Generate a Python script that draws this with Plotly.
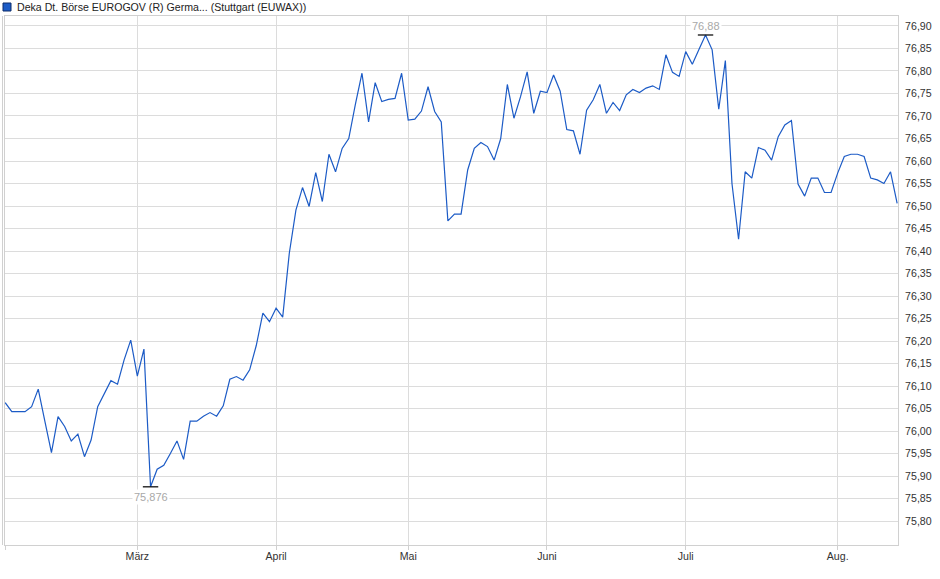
import pandas as pd
import plotly.graph_objects as go

# Trading days (Stuttgart), Feb 3 2025 .. Aug 14 2025, excluding Good Friday / Easter Monday / May 1
holidays = ["2025-04-18", "2025-04-21", "2025-05-01"]
days = [d for d in pd.bdate_range("2025-02-03", "2025-08-14") if d.strftime("%Y-%m-%d") not in holidays]
dates = [d.strftime("%Y-%m-%d") for d in days]

prices = [
    76.063, 76.043, 76.043, 76.043, 76.054, 76.093, 76.022, 75.952, 76.032, 76.010,
    75.978, 75.993, 75.943, 75.980, 76.054, 76.084, 76.112, 76.104, 76.158, 76.202,
    76.122, 76.182, 75.876, 75.915, 75.924, 75.950, 75.978, 75.937, 76.022, 76.022,
    76.033, 76.041, 76.033, 76.056, 76.115, 76.121, 76.113, 76.136, 76.190, 76.262,
    76.243, 76.273, 76.253, 76.395, 76.491, 76.541, 76.499, 76.574, 76.510, 76.615,
    76.576, 76.628, 76.650, 76.726, 76.795, 76.687, 76.774, 76.732, 76.737, 76.739,
    76.795, 76.691, 76.693, 76.711, 76.765, 76.710, 76.687, 76.467, 76.482, 76.482,
    76.580, 76.628, 76.641, 76.632, 76.602, 76.650, 76.770, 76.695, 76.743, 76.798,
    76.706, 76.755, 76.752, 76.791, 76.755, 76.670, 76.667, 76.615, 76.713, 76.736,
    76.770, 76.706, 76.730, 76.712, 76.747, 76.759, 76.752, 76.762, 76.767, 76.759,
    76.836, 76.797, 76.788, 76.843, 76.815, 76.848, 76.880, 76.847, 76.715, 76.823,
    76.550, 76.426, 76.576, 76.562, 76.630, 76.624, 76.602, 76.654, 76.680, 76.690,
    76.549, 76.522, 76.562, 76.562, 76.530, 76.530, 76.573, 76.610, 76.615, 76.615,
    76.610, 76.562, 76.558, 76.550, 76.576, 76.506,
]
dates = dates[:len(prices)]

month_ticks = ["2025-02-03", "2025-03-03", "2025-04-01", "2025-05-02", "2025-06-02", "2025-07-01", "2025-08-01"]
month_labels = ["", "März", "April", "Mai", "Juni", "Juli", "Aug."]
y_ticks = [round(75.80 + 0.05 * k, 2) for k in range(23)]
y_labels = [f"{v:.2f}".replace(".", ",") for v in y_ticks]

title = "Deka Dt. Börse EUROGOV (R) Germa... (Stuttgart (EUWAX))"
max_label, min_label = "76,88", "75,876"
i_max = prices.index(max(prices))
i_min = prices.index(min(prices))

LINE = "#1c5bc6"
FONT = "Liberation Sans, Arial, sans-serif"

fig = go.Figure()
fig.add_trace(go.Scatter(
    x=dates, y=prices, mode="lines",
    line=dict(color=LINE, width=1.2), hoverinfo="skip", showlegend=False,
))
fig.add_trace(go.Scatter(
    x=[dates[i_max], dates[i_min]], y=[prices[i_max], prices[i_min]], mode="markers",
    marker=dict(symbol="line-ew", size=11, line=dict(color="#111", width=1.3)),
    hoverinfo="skip", showlegend=False,
))

fig.add_annotation(x=dates[i_max], y=prices[i_max], text=max_label, showarrow=False,
                   yanchor="bottom", yshift=1, font=dict(size=11, color="#a8a8a8", family=FONT),
                   bgcolor="white")
fig.add_annotation(x=dates[i_min], y=prices[i_min], text=min_label, showarrow=False,
                   yanchor="top", yshift=-2, font=dict(size=11, color="#a8a8a8", family=FONT),
                   bgcolor="white")

# legend-like header
fig.add_shape(type="rect", xref="paper", yref="paper",
              x0=(3 - 5) / 893, x1=(11 - 5) / 893, y0=(545 - 11) / 529, y1=(545 - 3) / 529,
              fillcolor=LINE, line=dict(color="#0c2d6b", width=1))
fig.add_annotation(xref="paper", yref="paper", x=(15 - 5) / 893, y=(545 - 7) / 529,
                   xanchor="left", yanchor="middle", showarrow=False, text=title,
                   font=dict(size=10.6, color="#222", family=FONT))
# extra left border line
fig.add_shape(type="line", xref="paper", yref="paper",
              x0=(2.5 - 5) / 893, x1=(2.5 - 5) / 893, y0=0, y1=1,
              line=dict(color="#d0d0d0", width=1))

fig.update_layout(
    width=940, height=579,
    margin=dict(l=5, r=42, t=16, b=34),
    paper_bgcolor="white", plot_bgcolor="white",
    font=dict(family=FONT, size=11, color="#333"),
    showlegend=False,
)
fig.update_xaxes(
    type="category", range=[-0.03, 135.13],
    tickmode="array", tickvals=month_ticks, ticktext=month_labels,
    showgrid=True, gridcolor="#dcdcdc", gridwidth=1,
    ticks="outside", ticklen=4, tickcolor="#d0d0d0",
    showline=True, linecolor="#d0d0d0", mirror=True,
    tickfont=dict(size=10.6, color="#333"), zeroline=False,
    ticklabelstandoff=-3,
)
fig.update_yaxes(
    side="right", range=[75.7467, 76.9222],
    tickmode="array", tickvals=y_ticks, ticktext=y_labels,
    showgrid=True, gridcolor="#dcdcdc", gridwidth=1,
    ticks="", showline=True, linecolor="#d0d0d0", mirror=True,
    tickfont=dict(size=10.6, color="#333"), zeroline=False,
    ticklabelstandoff=4,
)

fig.write_html("out.html", config={"displayModeBar": False},
               post_script="document.body.style.margin='0';")
